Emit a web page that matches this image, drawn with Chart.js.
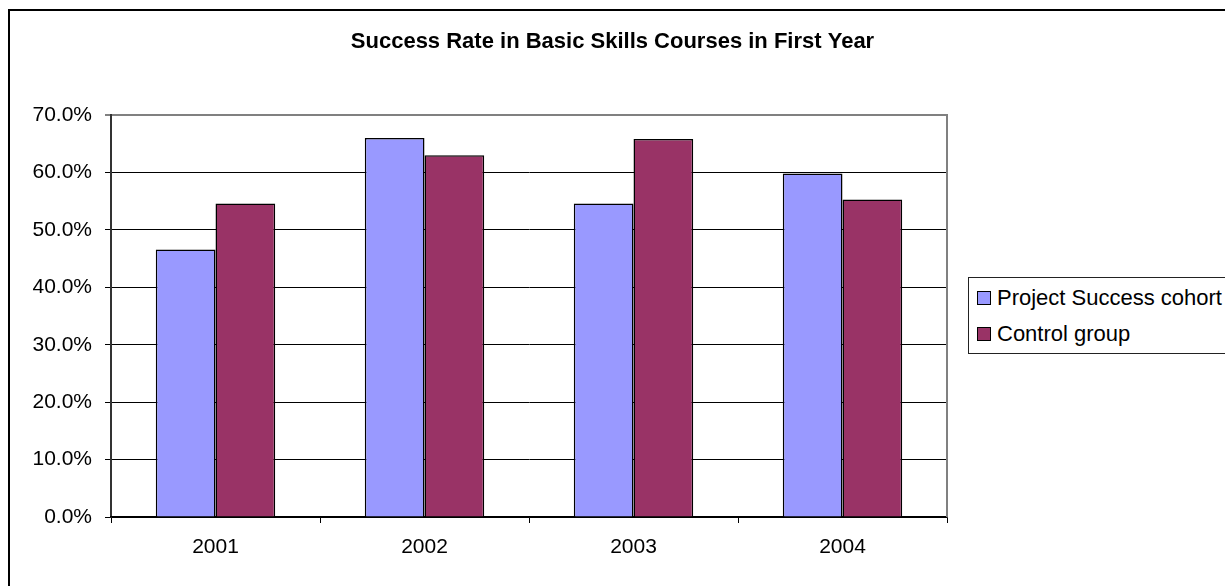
<!DOCTYPE html>
<html>
<head>
<meta charset="utf-8">
<script src="https://cdn.jsdelivr.net/npm/chart.js@4/dist/chart.umd.min.js"></script>
<style>
    html, body { margin: 0; padding: 0; background: #fff; overflow: hidden; }
    #wrap { position: relative; width: 1225px; height: 586px; overflow: hidden; }
    #frame {
        position: absolute; left: 8px; top: 9px;
        width: 1300px; height: 700px;
        border: 2px solid #000;
    }
    #chart { position: absolute; left: 0; top: 0; }
    #legend {
        position: absolute; left: 968px; top: 277px;
        width: 320px; height: 75px;
        border: 1px solid #222; background: #fff;
        font-family: 'Liberation Sans', Arial, sans-serif; font-size: 22px; color: #000;
    }
    .item { position: absolute; left: 0; height: 26px; line-height: 26px; white-space: nowrap; }
    .item span.sw {
        position: absolute; left: 8px; top: 6px;
        width: 12px; height: 12px; border: 1px solid #000;
    }
    .item span.lb { position: absolute; left: 28px; top: 0; }
</style>
</head>
<body>
<div id="wrap">
    <div id="frame"></div>
    <canvas id="chart" width="1225" height="586"></canvas>
    <div id="legend"></div>
</div>
<script>
// ─── data ───
const years = ['2001', '2002', '2003', '2004'];
const cohortRate = [46.6, 66.0, 54.6, 59.8];
const controlRate = [54.6, 63.0, 65.8, 55.3];
const seriesNames = ['Project Success cohort', 'Control group'];
const seriesColors = ['#9999FF', '#993366'];
const yTicks = [0, 10, 20, 30, 40, 50, 60, 70];
const chartTitle = 'Success Rate in Basic Skills Courses in First Year';

const FONT = "'Liberation Sans', Arial, sans-serif";

// gray right edge of the plot area + title centred on the whole canvas
const plotFrame = {
    id: 'plotFrame',
    afterDatasetsDraw(chart) {
        const { ctx, chartArea: a, width } = chart;
        ctx.save();
        ctx.strokeStyle = '#808080';
        ctx.lineWidth = 2;
        ctx.beginPath();
        ctx.moveTo(a.right, a.top - 1);
        ctx.lineTo(a.right, a.bottom);
        ctx.stroke();

        ctx.fillStyle = '#000';
        ctx.font = `bold 22px ${FONT}`;
        ctx.textAlign = 'center';
        ctx.textBaseline = 'alphabetic';
        ctx.fillText(chartTitle, width / 2, 48);
        ctx.restore();
    }
};

const ctx = document.getElementById('chart').getContext('2d');
new Chart(ctx, {
    type: 'bar',
    data: {
        labels: years,
        datasets: [
            { label: seriesNames[0], data: cohortRate, backgroundColor: seriesColors[0] },
            { label: seriesNames[1], data: controlRate, backgroundColor: seriesColors[1] }
        ].map(d => Object.assign(d, {
            borderColor: '#000',
            borderWidth: 1.5,
            categoryPercentage: 2 / 3.5,
            barPercentage: 1
        }))
    },
    options: {
        responsive: false,
        animation: false,
        layout: { padding: { left: 0, right: 278, top: 115, bottom: 0 } },
        scales: {
            y: {
                min: yTicks[0],
                max: yTicks[yTicks.length - 1],
                afterBuildTicks: s => { s.ticks = yTicks.map(v => ({ value: v })); },
                afterFit: s => { s.width = 111; },
                ticks: {
                    padding: 13,
                    color: '#000',
                    font: { family: FONT, size: 21 },
                    callback: v => v.toFixed(1) + '%'
                },
                grid: {
                    tickLength: 6,
                    color: c => (c.tick && c.tick.value === 70) ? '#808080' : '#000',
                    lineWidth: c => (c.tick && c.tick.value === 70) ? 2 : 1
                },
                border: { color: '#333', width: 2 }
            },
            x: {
                afterFit: s => { s.height = 69; },
                ticks: {
                    padding: 12,
                    color: '#000',
                    font: { family: FONT, size: 21 }
                },
                grid: { drawOnChartArea: false, tickLength: 6, color: '#000' },
                border: { color: '#000', width: 1.5 }
            }
        },
        plugins: {
            legend: { display: false },
            tooltip: { enabled: false },
            title: { display: false }
        }
    },
    plugins: [plotFrame]
});

// ─── legend ───
const legend = document.getElementById('legend');
seriesNames.forEach((name, i) => {
    const row = document.createElement('div');
    row.className = 'item';
    row.style.top = (7 + i * 36) + 'px';
    row.innerHTML = `<span class="sw" style="background:${seriesColors[i]}"></span><span class="lb">${name}</span>`;
    legend.appendChild(row);
});
</script>
</body>
</html>
